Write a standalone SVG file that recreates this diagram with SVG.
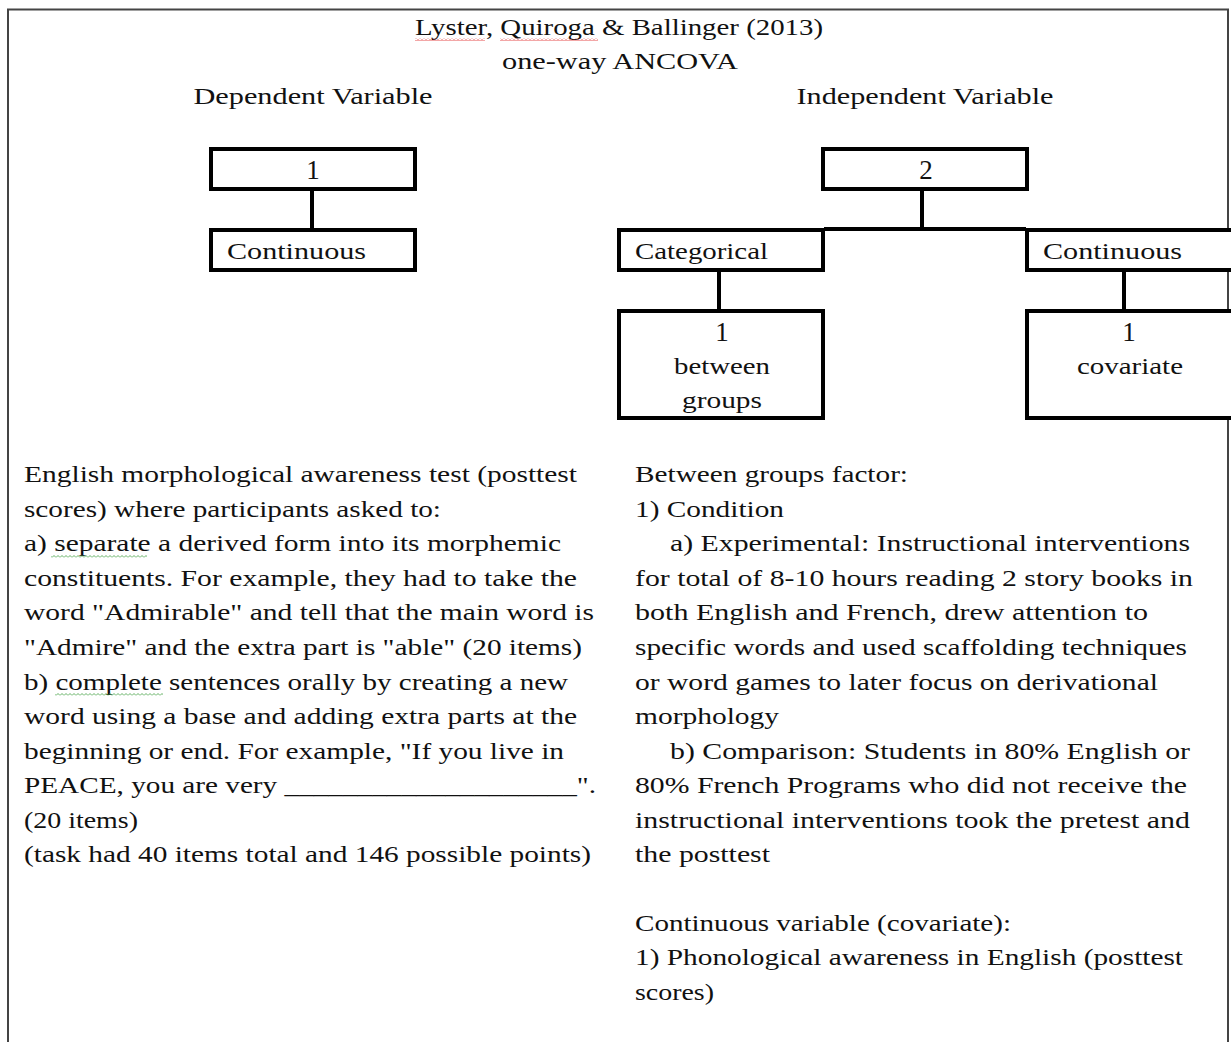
<svg xmlns="http://www.w3.org/2000/svg" width="1231" height="1042" viewBox="0 0 1231 1042">
<style>
text{font-family:"Liberation Serif","Times New Roman",serif;font-size:24px;fill:#111}
.box{fill:#fff;stroke:#000;stroke-width:4}
.conn{stroke:#000;stroke-width:4;fill:none}
.c{text-anchor:middle}
.num{font-size:27px}
</style>
<defs>
<pattern id="wr" width="4" height="3" patternUnits="userSpaceOnUse"><polyline points="0,2.5 2,0.5 4,2.5" fill="none" stroke="#e02020" stroke-width="0.8"/></pattern>
<pattern id="wg" width="4" height="3" patternUnits="userSpaceOnUse"><polyline points="0,2.5 2,0.5 4,2.5" fill="none" stroke="#3a9a3a" stroke-width="0.8"/></pattern>
</defs>
<rect width="1231" height="1042" fill="#fff"/>
<path d="M8,1042 V9.5 H1228 V1042" fill="none" stroke="#444" stroke-width="2"/>

<g id="header">
<text x="619" y="35" class="c" textLength="408" lengthAdjust="spacingAndGlyphs">Lyster, Quiroga &amp; Ballinger (2013)</text>
<rect x="415" y="38" width="70" height="3" fill="url(#wr)"/>
<rect x="500" y="38" width="98" height="3" fill="url(#wr)"/>
<text x="620" y="69" class="c" textLength="236" lengthAdjust="spacingAndGlyphs">one-way ANCOVA</text>
<text x="313" y="104" class="c" textLength="239" lengthAdjust="spacingAndGlyphs">Dependent Variable</text>
<text x="925" y="104" class="c" textLength="257" lengthAdjust="spacingAndGlyphs">Independent Variable</text>
</g>

<g id="connectors">
<line class="conn" x1="312" y1="189" x2="312" y2="229"/>
<line class="conn" x1="922" y1="189" x2="922" y2="229"/>
<line class="conn" x1="824" y1="229" x2="1026" y2="229"/>
<line class="conn" x1="719" y1="271" x2="719" y2="310"/>
<line class="conn" x1="1124" y1="271" x2="1124" y2="310"/>
</g>

<g id="dv-count">
<rect class="box" x="211" y="149" width="204" height="40"/>
<text x="313" y="179" class="c num">1</text>
</g>
<g id="dv-continuous">
<rect class="box" x="211" y="230" width="204" height="40"/>
<text x="227" y="259" textLength="139" lengthAdjust="spacingAndGlyphs">Continuous</text>
</g>
<g id="iv-count">
<rect class="box" x="823" y="149" width="204" height="40"/>
<text x="926" y="179" class="c num">2</text>
</g>
<g id="iv-categorical">
<rect class="box" x="619" y="230" width="204" height="40"/>
<text x="635" y="259" textLength="133" lengthAdjust="spacingAndGlyphs">Categorical</text>
</g>
<g id="iv-continuous">
<rect class="box" x="1027" y="230" width="210" height="40"/>
<text x="1043" y="259" textLength="139" lengthAdjust="spacingAndGlyphs">Continuous</text>
</g>
<g id="between-groups">
<rect class="box" x="619" y="311" width="204" height="107"/>
<text x="722" y="341" class="c num">1</text>
<text x="722" y="374" class="c" textLength="96" lengthAdjust="spacingAndGlyphs">between</text>
<text x="722" y="408" class="c" textLength="80" lengthAdjust="spacingAndGlyphs">groups</text>
</g>
<g id="covariate">
<rect class="box" x="1027" y="311" width="210" height="107"/>
<text x="1129" y="341" class="c num">1</text>
<text x="1130" y="374" class="c" textLength="106" lengthAdjust="spacingAndGlyphs">covariate</text>
</g>

<g id="dv-description">
<text x="24" y="482" textLength="553" lengthAdjust="spacingAndGlyphs">English morphological awareness test (posttest</text>
<text x="24" y="517" textLength="417" lengthAdjust="spacingAndGlyphs">scores) where participants asked to:</text>
<text x="24" y="551" textLength="537" lengthAdjust="spacingAndGlyphs">a) separate a derived form into its morphemic</text>
<rect x="51" y="555" width="96" height="3" fill="url(#wg)"/>
<text x="24" y="586" textLength="553" lengthAdjust="spacingAndGlyphs">constituents. For example, they had to take the</text>
<text x="24" y="620" textLength="570" lengthAdjust="spacingAndGlyphs">word "Admirable" and tell that the main word is</text>
<text x="24" y="655" textLength="558" lengthAdjust="spacingAndGlyphs">"Admire" and the extra part is "able" (20 items)</text>
<text x="24" y="690" textLength="544" lengthAdjust="spacingAndGlyphs">b) complete sentences orally by creating a new</text>
<rect x="55" y="693" width="108" height="3" fill="url(#wg)"/>
<text x="24" y="724" textLength="553" lengthAdjust="spacingAndGlyphs">word using a base and adding extra parts at the</text>
<text x="24" y="759" textLength="540" lengthAdjust="spacingAndGlyphs">beginning or end. For example, "If you live in</text>
<text x="24" y="793" textLength="572" lengthAdjust="spacingAndGlyphs">PEACE, you are very ____________________".</text>
<text x="24" y="828" textLength="114" lengthAdjust="spacingAndGlyphs">(20 items)</text>
<text x="24" y="862" textLength="567" lengthAdjust="spacingAndGlyphs">(task had 40 items total and 146 possible points)</text>
</g>

<g id="iv-description">
<text x="635" y="482" textLength="273" lengthAdjust="spacingAndGlyphs">Between groups factor:</text>
<text x="635" y="517" textLength="149" lengthAdjust="spacingAndGlyphs">1) Condition</text>
<text x="670" y="551" textLength="520" lengthAdjust="spacingAndGlyphs">a) Experimental: Instructional interventions</text>
<text x="635" y="586" textLength="558" lengthAdjust="spacingAndGlyphs">for total of 8-10 hours reading 2 story books in</text>
<text x="635" y="620" textLength="513" lengthAdjust="spacingAndGlyphs">both English and French, drew attention to</text>
<text x="635" y="655" textLength="552" lengthAdjust="spacingAndGlyphs">specific words and used scaffolding techniques</text>
<text x="635" y="690" textLength="523" lengthAdjust="spacingAndGlyphs">or word games to later focus on derivational</text>
<text x="635" y="724" textLength="144" lengthAdjust="spacingAndGlyphs">morphology</text>
<text x="670" y="759" textLength="520" lengthAdjust="spacingAndGlyphs">b) Comparison: Students in 80% English or</text>
<text x="635" y="793" textLength="552" lengthAdjust="spacingAndGlyphs">80% French Programs who did not receive the</text>
<text x="635" y="828" textLength="555" lengthAdjust="spacingAndGlyphs">instructional interventions took the pretest and</text>
<text x="635" y="862" textLength="135" lengthAdjust="spacingAndGlyphs">the posttest</text>
<text x="635" y="931" textLength="376" lengthAdjust="spacingAndGlyphs">Continuous variable (covariate):</text>
<text x="635" y="965" textLength="548" lengthAdjust="spacingAndGlyphs">1) Phonological awareness in English (posttest</text>
<text x="635" y="1000" textLength="79" lengthAdjust="spacingAndGlyphs">scores)</text>
</g>
</svg>
